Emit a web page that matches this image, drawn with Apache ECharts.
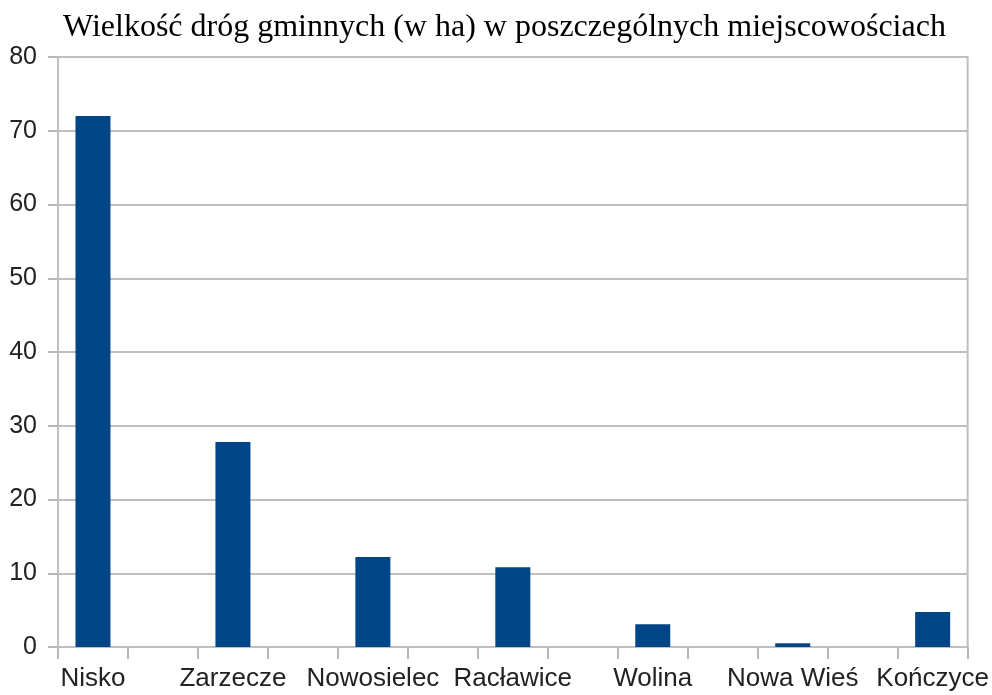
<!DOCTYPE html>
<html>
<head>
<meta charset="utf-8">
<script src="https://cdn.jsdelivr.net/npm/echarts@6/dist/echarts.min.js"></script>
<style>html,body{margin:0;padding:0;background:#fff}#c{width:992px;height:695px}</style>
</head>
<body>
<div id="c"></div>
<script>
var title = 'Wielkość dróg gminnych (w ha) w poszczególnych miejscowościach';
// 13 category slots in the original sheet; every other row is empty
var categories = ['Nisko', '', 'Zarzecze', '', 'Nowosielec', '', 'Racławice', '', 'Wolina', '', 'Nowa Wieś', '', 'Kończyce'];
var values = [72, null, 27.8, null, 12.2, null, 10.8, null, 3.1, null, 0.5, null, 4.75];
var yTicks = {min: 0, max: 80, interval: 10};

var chart = echarts.init(document.getElementById('c'));
chart.setOption({
  animation: false,
  backgroundColor: '#fff',
  title: {
    text: title,
    left: 58,
    top: 7,
    textStyle: {fontFamily: 'Liberation Serif', fontSize: 32, fontWeight: 'normal', color: '#000'}
  },
  grid: {left: 58, right: 24, top: 57, bottom: 48, show: true, borderColor: '#bfbfbf', borderWidth: 2, backgroundColor: 'transparent'},
  xAxis: {
    type: 'category',
    data: categories,
    axisLine: {lineStyle: {color: '#bfbfbf', width: 2}},
    axisTick: {show: true, length: 12, lineStyle: {color: '#b8b8b8', width: 2}},
    axisLabel: {interval: 0, margin: 19, fontFamily: 'Liberation Sans', fontSize: 26, color: '#222'}
  },
  yAxis: {
    type: 'value',
    min: yTicks.min, max: yTicks.max, interval: yTicks.interval,
    axisLine: {show: true, lineStyle: {color: '#bfbfbf', width: 2}},
    axisTick: {show: true, length: 10, lineStyle: {color: '#b8b8b8', width: 2}},
    splitLine: {lineStyle: {color: '#bfbfbf', width: 2}},
    axisLabel: {margin: 21, fontFamily: 'Liberation Sans', fontSize: 25, color: '#222'}
  },
  series: [{
    type: 'bar',
    data: values,
    barWidth: 35,
    itemStyle: {color: '#004586'}
  }]
});
</script>
</body>
</html>
